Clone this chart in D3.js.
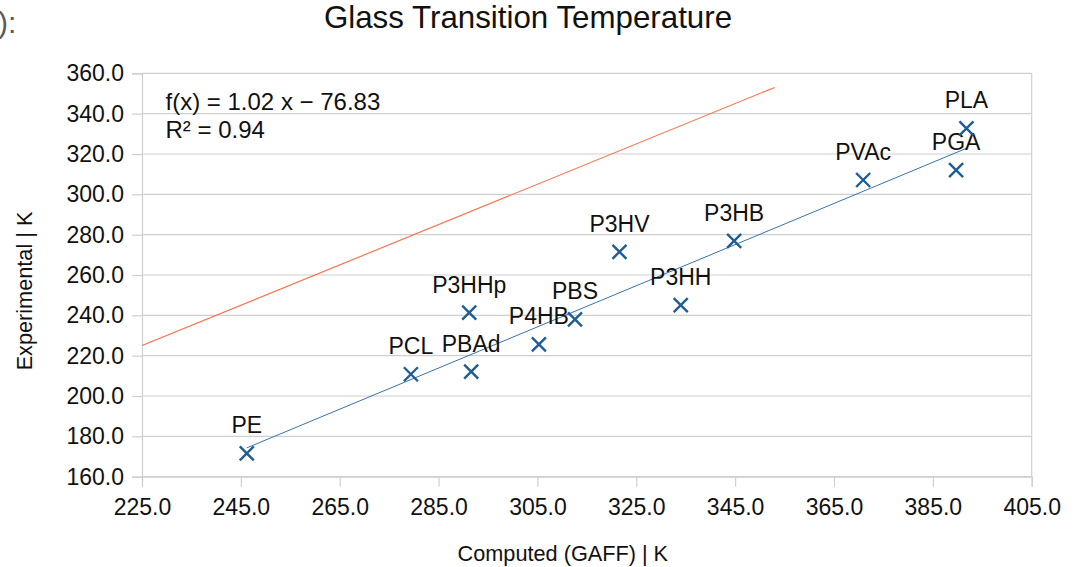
<!DOCTYPE html>
<html>
<head>
<meta charset="utf-8">
<script src="https://cdn.jsdelivr.net/npm/d3@7/dist/d3.min.js"></script>
<style>
  html, body { margin: 0; padding: 0; background: #fff; }
  svg { display: block; font-family: "Liberation Sans", Arial, sans-serif; }
</style>
</head>
<body>
<svg id="chart" width="1075" height="567"></svg>
<script>
// Polymer names with computed (GAFF) and experimental glass transition temperatures, in K
const polymers    = ["PE", "PCL", "PBAd", "P3HHp", "P4HB", "PBS", "P3HV", "P3HH", "P3HB", "PVAc", "PGA", "PLA"];
const computedTg  = [246.2, 279.4, 291.6, 291.2, 305.3, 312.6, 321.6, 334.0, 344.8, 370.9, 389.7, 391.8];
const measuredTg  = [171.6, 210.8, 212.1, 241.3, 225.6, 238.0, 271.5, 245.1, 276.9, 307.1, 312.0, 332.7];

// Linear fit shown in the chart
const fitSlope = 1.02;
const fitIntercept = -76.83;
const fitRSquared = 0.94;

// Reference line y = x
const identityX = [225, 353];

// Axis ticks
const xTicks = [225, 245, 265, 285, 305, 325, 345, 365, 385, 405];
const yTicks = [160, 180, 200, 220, 240, 260, 280, 300, 320, 340, 360];

const W = 1075, H = 567;
const margin = { top: 73.3, right: 43.3, bottom: 90.3, left: 142 };
const innerW = W - margin.left - margin.right;
const innerH = H - margin.top - margin.bottom;

const svg = d3.select("#chart");
const seriesColor = "#1f5c98";
const gridColor = "#cfcfcf";

// Fragment of a heading to the left of the chart
svg.append("text")
  .attr("x", -2).attr("y", 33)
  .attr("font-size", 30)
  .attr("fill", "#5a5a5a")
  .text("):");

// Title
svg.append("text")
  .attr("x", 528).attr("y", 28)
  .attr("text-anchor", "middle")
  .attr("font-size", 31.3)
  .attr("fill", "#111")
  .text("Glass Transition Temperature");

const g = svg.append("g").attr("transform", `translate(${margin.left},${margin.top})`);

const x = d3.scaleLinear().domain([225, 405]).range([0, innerW]);
const y = d3.scaleLinear().domain([160, 360]).range([innerH, 0]);

// Horizontal gridlines
g.append("g")
  .selectAll("line")
  .data(yTicks)
  .join("line")
  .attr("x1", 0).attr("x2", innerW)
  .attr("y1", d => y(d)).attr("y2", d => y(d))
  .attr("stroke", gridColor)
  .attr("stroke-width", 1.2);

// Right border
g.append("line")
  .attr("x1", innerW).attr("x2", innerW)
  .attr("y1", 0).attr("y2", innerH)
  .attr("stroke", gridColor)
  .attr("stroke-width", 1.2);

// Y axis
const yAxis = g.append("g")
  .call(d3.axisLeft(y).tickValues(yTicks).tickFormat(d3.format(".1f")).tickSize(10).tickPadding(8));
yAxis.select(".domain").attr("stroke", gridColor).attr("stroke-width", 1.2);
yAxis.selectAll(".tick line").attr("stroke", gridColor).attr("stroke-width", 1.2);
yAxis.selectAll(".tick text")
  .attr("font-size", 23)
  .attr("fill", "#111")
  .attr("font-family", "Liberation Sans, Arial, sans-serif");

// X axis
const xAxis = g.append("g")
  .attr("transform", `translate(0,${innerH})`)
  .call(d3.axisBottom(x).tickValues(xTicks).tickFormat(d3.format(".1f")).tickSize(10).tickPadding(12));
xAxis.select(".domain").attr("stroke", gridColor).attr("stroke-width", 1.2);
xAxis.selectAll(".tick line").attr("stroke", gridColor).attr("stroke-width", 1.2);
xAxis.selectAll(".tick text")
  .attr("font-size", 23)
  .attr("fill", "#111")
  .attr("font-family", "Liberation Sans, Arial, sans-serif");

// Axis titles
svg.append("text")
  .attr("x", margin.left + innerW / 2 - 24).attr("y", 561)
  .attr("text-anchor", "middle")
  .attr("font-size", 21.7)
  .attr("fill", "#111")
  .text("Computed (GAFF) | K");

svg.append("text")
  .attr("transform", "translate(32,291) rotate(-90)")
  .attr("text-anchor", "middle")
  .attr("font-size", 21.7)
  .attr("fill", "#111")
  .text("Experimental | K");

// Identity reference line
const line = d3.line().x(d => x(d[0])).y(d => y(d[1]));
g.append("path")
  .datum(identityX.map(v => [v, v]))
  .attr("d", line)
  .attr("fill", "none")
  .attr("stroke", "#ff6a45")
  .attr("stroke-width", 1.1);

// Fitted trend line over the data range
const pts = polymers.map((name, i) => ({ name, cx: computedTg[i], ex: measuredTg[i] }));
const xMin = d3.min(computedTg), xMax = d3.max(computedTg);
g.append("path")
  .datum([xMin, xMax].map(v => [v, fitSlope * v + fitIntercept]))
  .attr("d", line)
  .attr("fill", "none")
  .attr("stroke", "#3a72aa")
  .attr("stroke-width", 1);

// X markers
const s = 7;
const marks = g.append("g").selectAll("g").data(pts).join("g")
  .attr("transform", d => `translate(${x(d.cx)},${y(d.ex)})`);
marks.append("path")
  .attr("d", `M${-s},${-s}L${s},${s}M${-s},${s}L${s},${-s}`)
  .attr("stroke", seriesColor)
  .attr("stroke-width", 2.4)
  .attr("fill", "none");

// Point labels
marks.append("text")
  .attr("x", 0).attr("y", -20)
  .attr("text-anchor", "middle")
  .attr("font-size", 23)
  .attr("fill", "#111")
  .text(d => d.name);

// Regression equation
svg.append("text")
  .attr("x", 165.5).attr("y", 110)
  .attr("font-size", 24)
  .attr("fill", "#111")
  .text(`f(x) = ${fitSlope.toFixed(2)} x \u2212 ${Math.abs(fitIntercept).toFixed(2)}`);

svg.append("text")
  .attr("x", 165.5).attr("y", 138)
  .attr("font-size", 24)
  .attr("fill", "#111")
  .text(`R\u00B2 = ${fitRSquared.toFixed(2)}`);
</script>
</body>
</html>
